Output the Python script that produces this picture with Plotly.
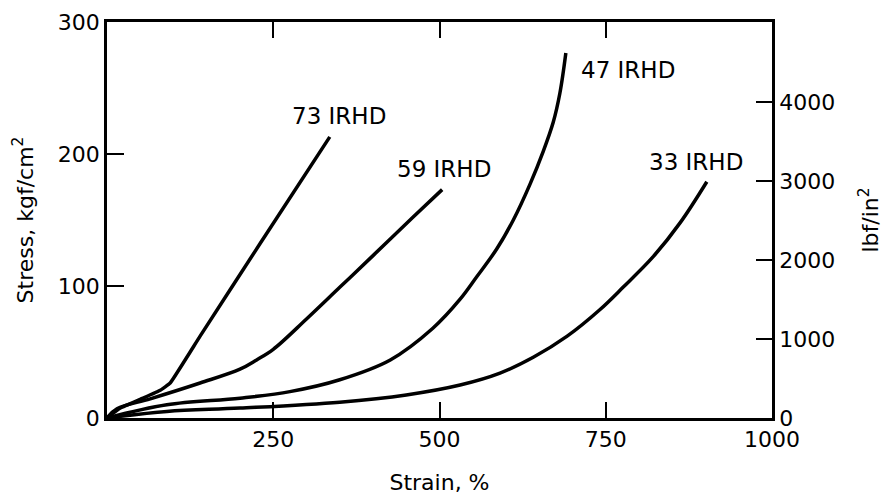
import plotly.graph_objects as go

# Data (strain %, stress kgf/cm^2)
x73 = [0, 20, 54, 80, 95, 140, 230, 335]
y73 = [0, 7.5, 15, 21, 26.5, 62, 132, 213]

x59 = [0, 15, 65, 140, 200, 225, 250, 300, 350, 400, 460, 504]
y59 = [0, 7, 14.5, 26.5, 37, 44, 52, 75, 99, 123, 152, 173]

x47 = [0, 90, 200, 275, 350, 426, 490, 531, 556, 586, 611, 636, 656, 671, 681, 690]
y47 = [0, 10, 15, 20, 29, 44, 68, 90, 107, 128, 150, 177, 202, 224, 246, 276.5]

x33 = [0, 90, 200, 350, 450, 531, 591, 641, 692, 741, 776, 821, 862, 902]
y33 = [0, 5, 7.5, 12, 17.5, 25, 34, 46, 62, 82, 99, 122, 148, 179]

labels = ["73 IRHD", "59 IRHD", "47 IRHD", "33 IRHD"]
label_x = [349, 507, 783, 886]
label_y = [229, 189, 264, 194]

x_ticks = [250, 500, 750, 1000]
y_ticks = [0, 100, 200, 300]
y2_ticks = [0, 1000, 2000, 3000, 4000]

FONT = "DejaVu Sans"
fig = go.Figure()
series = [x73, y73], [x59, y59], [x47, y47], [x33, y33]
smooth = [0.3, 1.0, 1.0, 1.0]
for (xs, ys), name, sm in zip(series, labels, smooth):
    fig.add_trace(go.Scatter(x=xs, y=ys, mode="lines", name=name,
                             line=dict(color="black", width=3.5, shape="spline", smoothing=sm),
                             showlegend=False, hoverinfo="skip"))

# invisible trace so the right-hand (lbf/in^2) axis is drawn
fig.add_trace(go.Scatter(x=[0], y=[0], yaxis="y2", mode="markers",
                         marker=dict(opacity=0), showlegend=False, hoverinfo="skip"))

for t, xx, yy in zip(labels, label_x, label_y):
    fig.add_annotation(x=xx, y=yy, text=t, showarrow=False, xref="x", yref="y",
                       font=dict(family=FONT, size=23, color="black"))

fig.update_layout(
    width=883, height=497,
    margin=dict(l=107, r=111, t=22, b=79, autoexpand=False),
    plot_bgcolor="white", paper_bgcolor="white",
    font=dict(family=FONT, size=22, color="black"),
    xaxis=dict(range=[0, 1000], tickvals=x_ticks, ticktext=[str(v) for v in x_ticks],
               ticks="inside", ticklen=16, tickwidth=2, tickcolor="black",
               tickfont=dict(size=22), automargin=False,
               showline=True, linewidth=2.5, linecolor="black", mirror="ticks",
               showgrid=False, zeroline=False,
               title=dict(text="Strain, %", standoff=24, font=dict(size=22))),
    yaxis=dict(range=[0, 300], tickvals=y_ticks, ticktext=[str(v) for v in y_ticks],
               ticks="inside", ticklen=17, tickwidth=2, tickcolor="black",
               tickfont=dict(size=22), automargin=False,
               showline=True, linewidth=2.5, linecolor="black",
               showgrid=False, zeroline=False,
               title=dict(text="Stress, kgf/cm<sup>2</sup>", standoff=19, font=dict(size=22))),
    yaxis2=dict(range=[0, 5010], tickvals=y2_ticks, ticktext=[str(v) for v in y2_ticks],
                overlaying="y", side="right",
                ticks="inside", ticklen=16, tickwidth=2, tickcolor="black",
                tickfont=dict(size=22), automargin=False,
                showline=True, linewidth=2.5, linecolor="black",
                showgrid=False, zeroline=False,
                title=dict(text="lbf/in<sup>2</sup>", standoff=32, font=dict(size=22))),
)

fig.write_html("out.html")
